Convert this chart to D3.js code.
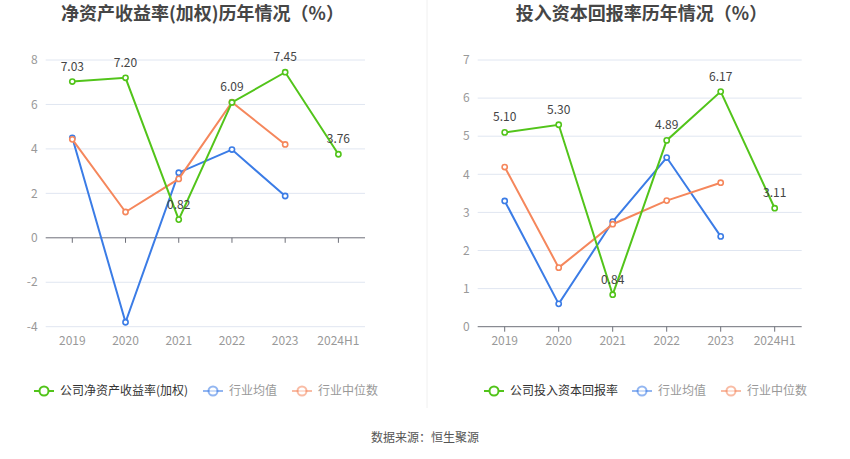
<!DOCTYPE html>
<html><head><meta charset="utf-8">
<script src="https://cdn.jsdelivr.net/npm/d3@7"></script>
<style>
body{margin:0;background:#fff;font-family:"Noto Sans CJK SC","Noto Sans",sans-serif;}
</style></head>
<body><svg id="c" width="850" height="459"></svg>
<script>
const categories = ["2019","2020","2021","2022","2023","2024H1"];
const roeCompany = [7.03, 7.20, 0.82, 6.09, 7.45, 3.76];
const roeIndustryAvg = [4.50, -3.80, 2.93, 3.97, 1.88, null];
const roeIndustryMedian = [4.43, 1.16, 2.65, 6.10, 4.20, null];
const roeTicks = [-4, -2, 0, 2, 4, 6, 8];

const roicCompany = [5.10, 5.30, 0.84, 4.89, 6.17, 3.11];
const roicIndustryAvg = [3.30, 0.60, 2.76, 4.44, 2.37, null];
const roicIndustryMedian = [4.19, 1.55, 2.69, 3.31, 3.78, null];
const roicTicks = [0, 1, 2, 3, 4, 5, 6, 7];

const titles = ["净资产收益率(加权)历年情况（%）", "投入资本回报率历年情况（%）"];
const legendLeft = ["公司净资产收益率(加权)", "行业均值", "行业中位数"];
const legendRight = ["公司投入资本回报率", "行业均值", "行业中位数"];
const sourceText = "数据来源：恒生聚源";

const GREEN = "#52c41a", BLUE = "#3b7ce6", ORANGE = "#f5875c";
const svg = d3.select("#c");

function drawChart(o){
  const g = svg.append("g");
  const x = d3.scaleBand().domain(categories).range([o.x0, o.x1]);
  const y = d3.scaleLinear().domain(o.domain).range([o.yBottom, o.yTop]);
  g.selectAll(".grid").data(o.ticks.filter(t => t !== 0)).enter().append("line")
    .attr("x1", o.x0).attr("x2", o.x1)
    .attr("y1", d => y(d)).attr("y2", d => y(d))
    .attr("stroke", "#e0e6f1").attr("stroke-width", 1);
  g.append("line").attr("x1", o.x0).attr("x2", o.x1).attr("y1", y(0)).attr("y2", y(0))
    .attr("stroke", "#6e7079").attr("stroke-width", 1);
  g.selectAll(".tk").data(categories).enter().append("line")
    .attr("x1", d => x(d) + x.bandwidth()/2).attr("x2", d => x(d) + x.bandwidth()/2)
    .attr("y1", y(0)).attr("y2", y(0) + 5).attr("stroke", "#6e7079");
  g.selectAll(".yl").data(o.ticks).enter().append("text")
    .attr("x", o.x0 - 8).attr("y", d => y(d)).attr("dy", "0.35em")
    .attr("text-anchor", "end").attr("font-size", 12).attr("fill", "#999")
    .text(d => d);
  g.selectAll(".xl").data(categories).enter().append("text")
    .attr("x", d => x(d) + x.bandwidth()/2).attr("y", o.yBottom + 18)
    .attr("text-anchor", "middle").attr("font-size", 12).attr("fill", "#999")
    .text(d => d);
  const cx = i => x(categories[i]) + x.bandwidth()/2;
  function series(vals, color){
    const line = d3.line().defined(d => d != null).x((d,i) => cx(i)).y(d => y(d));
    g.append("path").datum(vals).attr("d", line).attr("fill", "none")
      .attr("stroke", color).attr("stroke-width", 2);
    vals.forEach((d,i) => {
      if (d == null) return;
      g.append("circle").attr("cx", cx(i)).attr("cy", y(d))
        .attr("r", 2.6).attr("fill", "#fff").attr("stroke", color).attr("stroke-width", 1.6);
    });
  }
  series(o.avg, BLUE);
  series(o.med, ORANGE);
  series(o.comp, GREEN);
  o.comp.forEach((d,i) => {
    g.append("text").attr("x", cx(i)).attr("y", y(d) - 11)
      .attr("text-anchor", "middle").attr("font-size", 12).attr("fill", "#444")
      .text(d.toFixed(2));
  });
  svg.append("text").attr("x", o.titleX).attr("y", 20).attr("text-anchor", "middle")
    .attr("font-size", 18).attr("font-weight", "bold").attr("fill", "#464646")
    .text(o.title);
  const colors = [GREEN, BLUE, ORANGE];
  const lg = svg.append("g");
  o.legend.forEach((t,i) => {
    const lx = o.legendX[i];
    const op = i === 0 ? 1 : 0.55;
    lg.append("line").attr("x1", lx).attr("x2", lx + 20).attr("y1", 391).attr("y2", 391)
      .attr("stroke", colors[i]).attr("stroke-width", 2).attr("opacity", op);
    lg.append("circle").attr("cx", lx + 10).attr("cy", 391).attr("r", 4.5)
      .attr("fill", "#fff").attr("stroke", colors[i]).attr("stroke-width", 2).attr("opacity", op);
    lg.append("text").attr("x", lx + 26).attr("y", 391).attr("dy", "0.35em")
      .attr("font-size", 12).attr("fill", i === 0 ? "#333" : "#999").text(t);
  });
}

drawChart({x0: 45.7, x1: 365, yTop: 60, yBottom: 326.7, domain: [-4, 8], ticks: roeTicks,
  comp: roeCompany, avg: roeIndustryAvg, med: roeIndustryMedian,
  title: titles[0], titleX: 202.5, legend: legendLeft, legendX: [34, 203, 292]});
drawChart({x0: 477.7, x1: 801.7, yTop: 60, yBottom: 326.7, domain: [0, 7], ticks: roicTicks,
  comp: roicCompany, avg: roicIndustryAvg, med: roicIndustryMedian,
  title: titles[1], titleX: 641.5, legend: legendRight, legendX: [484, 632, 721]});

svg.append("line").attr("x1", 427).attr("x2", 427).attr("y1", 0).attr("y2", 408)
  .attr("stroke", "#f0f0f0").attr("stroke-width", 1);
svg.append("text").attr("x", 425).attr("y", 438).attr("dy", "0.35em").attr("text-anchor", "middle")
  .attr("font-size", 12).attr("fill", "#555").text(sourceText);
</script></body></html>
